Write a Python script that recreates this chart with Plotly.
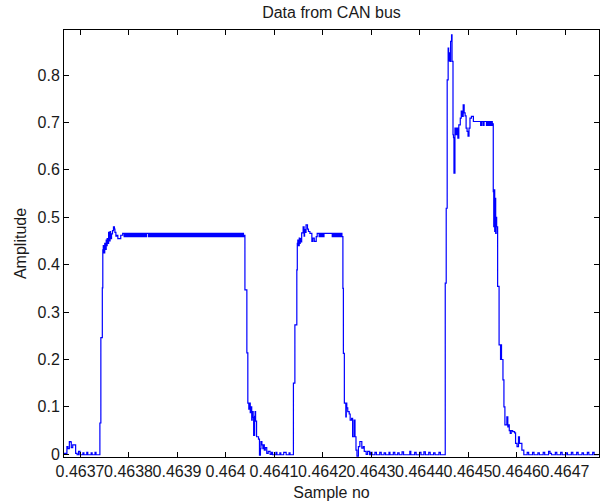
import plotly.graph_objects as go

# Sample numbers are stored as integer offsets from ORIGIN, in units of STEP.
ORIGIN = 0.4637
STEP = 1e-6

# (offset, amplitude) change points of the bus voltage, held until the next point
quiet_start = [
    (-33, 0.002), (-29, 0.002), (-27, 0.016), (-25, 0.012), (-22, 0.027),
    (-20, 0.026), (-18, 0.014), (-15, 0.020), (-9, 0.002), (-6, -0.001),
    (-3, 0.006), (0, -0.001), (6, 0.003), (8, -0.001), (14, 0.004),
    (16, -0.001), (23, 0.003), (25, -0.001), (31, 0.004), (33, -0.001),
]

pulse1_rise = [
    (41, 0.066), (43, 0.246), (46, 0.351), (47, 0.431), (48, 0.440),
    (49, 0.425), (51, 0.445), (52, 0.432), (54, 0.452), (55, 0.440),
    (56, 0.455), (58, 0.445), (59, 0.468), (60, 0.450), (62, 0.470),
    (63, 0.455), (65, 0.465), (67, 0.472), (69, 0.480), (71, 0.475),
    (72, 0.468), (74, 0.460), (76, 0.462), (78, 0.455), (84, 0.462),
    (88, 0.466),
]

pulse1_top = [
    (89, 0.466), (91, 0.459), (93, 0.466), (95, 0.459), (97, 0.466),
    (99, 0.459), (101, 0.466), (103, 0.459), (105, 0.466), (107, 0.459),
    (109, 0.466), (111, 0.459), (113, 0.466), (115, 0.459), (117, 0.466),
    (119, 0.459), (121, 0.466), (123, 0.459), (125, 0.466), (127, 0.459),
    (129, 0.466), (131, 0.459), (133, 0.466), (135, 0.459), (137, 0.466),
    (141, 0.459), (143, 0.466), (145, 0.459), (147, 0.466), (149, 0.459),
    (151, 0.466), (153, 0.459), (155, 0.466), (157, 0.459), (159, 0.466),
    (161, 0.459), (163, 0.466), (165, 0.459), (167, 0.466), (169, 0.459),
    (171, 0.466), (173, 0.459), (175, 0.466), (177, 0.459), (179, 0.466),
    (181, 0.459), (183, 0.466), (185, 0.459), (187, 0.466), (189, 0.459),
    (191, 0.466), (193, 0.459), (195, 0.466), (197, 0.459), (199, 0.466),
    (201, 0.459), (203, 0.466), (205, 0.459), (207, 0.466), (209, 0.459),
    (211, 0.466), (213, 0.459), (215, 0.466), (217, 0.459), (219, 0.466),
    (221, 0.459), (223, 0.466), (225, 0.459), (227, 0.466), (229, 0.459),
    (231, 0.466), (233, 0.459), (235, 0.466), (237, 0.459), (239, 0.466),
    (241, 0.459), (243, 0.466), (245, 0.459), (247, 0.466), (249, 0.459),
    (251, 0.466), (253, 0.459), (255, 0.466), (257, 0.459), (259, 0.466),
    (261, 0.459), (263, 0.466), (265, 0.459), (267, 0.466), (269, 0.459),
    (271, 0.466), (273, 0.459), (275, 0.466), (277, 0.459), (279, 0.466),
    (281, 0.459), (283, 0.466), (285, 0.459), (287, 0.466), (289, 0.459),
    (291, 0.466), (293, 0.459), (295, 0.466), (297, 0.459), (299, 0.466),
    (301, 0.459), (303, 0.466), (305, 0.459), (307, 0.466), (309, 0.459),
    (311, 0.466), (313, 0.459), (315, 0.466), (317, 0.459), (319, 0.466),
    (321, 0.459), (323, 0.466), (325, 0.459), (327, 0.466), (329, 0.459),
    (331, 0.466), (333, 0.459), (335, 0.466), (337, 0.459), (338, 0.462),
]

pulse1_fall = [
    (340, 0.347), (344, 0.214), (346, 0.108), (348, 0.095), (350, 0.108),
    (351, 0.088), (353, 0.100), (354, 0.072), (355, 0.090), (357, 0.078),
    (358, 0.040), (360, 0.080), (361, 0.090), (362, 0.070), (364, 0.037),
    (368, 0.032), (370, -0.002), (372, 0.012), (373, 0.027), (375, 0.020),
    (377, 0.012), (378, 0.020), (380, 0.009), (382, 0.014), (385, 0.002),
    (388, 0.006), (392, 0.000), (395, 0.004), (397, -0.001),
]

quiet_gap1 = [
    (404, 0.004), (406, -0.001), (412, 0.003), (414, -0.001), (420, 0.004),
    (425, -0.001), (431, 0.003), (433, -0.001),
]

pulse2_rise = [
    (440, 0.150), (443, 0.273), (447, 0.389), (448, 0.445), (449, 0.452),
    (450, 0.440), (452, 0.456), (453, 0.445), (454, 0.455), (455, 0.448),
    (457, 0.467), (460, 0.480), (462, 0.460), (463, 0.474), (464, 0.468),
    (466, 0.484), (469, 0.475), (471, 0.470), (474, 0.466), (478, 0.449),
    (480, 0.456), (483, 0.449), (487, 0.459),
]

pulse2_top = [
    (489, 0.466), (493, 0.459), (495, 0.466), (497, 0.459), (499, 0.466),
    (501, 0.459), (503, 0.466), (520, 0.459), (522, 0.466), (524, 0.459),
    (526, 0.466), (528, 0.459), (530, 0.466), (532, 0.459), (534, 0.466),
    (536, 0.459), (538, 0.466), (540, 0.459),
]

pulse2_fall = [
    (542, 0.350), (543, 0.213), (545, 0.108), (548, 0.079), (549, 0.108),
    (550, 0.098), (552, 0.090), (555, 0.085), (557, 0.072), (560, 0.076),
    (562, 0.037), (565, 0.072), (567, 0.037), (569, 0.009), (571, -0.004),
    (574, 0.016), (577, 0.027), (581, 0.013), (584, 0.016), (586, 0.006),
    (590, 0.000), (593, 0.006), (597, -0.001), (599, 0.004), (602, -0.001),
]

quiet_gap2 = [
    (608, 0.004), (611, -0.001), (618, 0.004), (621, -0.001), (627, 0.003),
    (630, -0.001), (637, 0.004), (639, -0.001), (646, 0.004), (649, -0.001),
    (655, 0.003), (658, -0.001), (664, 0.005), (667, -0.001), (680, 0.006),
    (682, -0.001), (690, 0.004), (693, -0.001), (700, 0.004), (703, -0.001),
    (709, 0.005), (712, -0.001), (719, 0.004), (722, -0.001), (729, 0.003),
    (732, -0.001), (740, 0.004), (743, -0.001),
]

pulse3_rise = [
    (753, 0.361), (755, 0.519), (757, 0.790), (759, 0.857), (760, 0.830),
    (761, 0.847), (763, 0.829), (764, 0.871), (766, 0.885), (767, 0.829),
    (769, 0.674), (770, 0.668), (771, 0.593), (773, 0.688), (775, 0.674),
    (777, 0.688), (779, 0.667), (781, 0.695), (784, 0.709), (786, 0.724),
    (788, 0.713), (790, 0.737), (792, 0.720), (794, 0.714), (796, 0.688),
    (798, 0.681), (800, 0.671), (802, 0.688), (804, 0.709), (807, 0.713),
    (811, 0.702),
]

pulse3_top = [
    (826, 0.694), (828, 0.702), (831, 0.694), (833, 0.702), (838, 0.694),
    (840, 0.702), (842, 0.694), (844, 0.702), (846, 0.694), (848, 0.702),
    (850, 0.694), (851, 0.697),
]

pulse3_fall = [
    (852, 0.554), (853, 0.480), (854, 0.558), (855, 0.470), (856, 0.540),
    (857, 0.466), (858, 0.500), (859, 0.480), (861, 0.354), (864, 0.231),
    (867, 0.200), (868, 0.231), (869, 0.200), (872, 0.157), (874, 0.100),
    (876, 0.062), (880, 0.079), (882, 0.058), (884, 0.062), (885, 0.050),
    (887, 0.044), (889, 0.050), (892, 0.048), (896, 0.045), (898, 0.023),
    (901, 0.016), (904, 0.037), (906, 0.023), (911, 0.009), (915, -0.001),
]

quiet_end = [
    (922, 0.004), (925, -0.001), (933, 0.004), (936, -0.001), (944, 0.003),
    (947, -0.001), (955, 0.004), (958, -0.001), (966, 0.006), (969, 0.002),
    (972, -0.001), (980, 0.004), (983, -0.001), (991, 0.004), (994, -0.001),
    (1002, 0.003), (1005, -0.001), (1013, 0.004), (1016, -0.001), (1024, 0.004),
    (1027, -0.001), (1035, 0.003), (1038, -0.001), (1046, 0.004), (1049, -0.001),
    (1057, 0.004), (1060, -0.001), (1069, -0.001),
]

x_tick_vals = [0.4637, 0.4638, 0.4639, 0.4640, 0.4641, 0.4642,
               0.4643, 0.4644, 0.4645, 0.4646, 0.4647]
x_tick_text = ["0.4637", "0.4638", "0.4639", "0.464", "0.4641", "0.4642",
               "0.4643", "0.4644", "0.4645", "0.4646", "0.4647"]
y_tick_vals = [0, 0.1, 0.2, 0.3, 0.4, 0.5, 0.6, 0.7, 0.8]
y_tick_text = ["0", "0.1", "0.2", "0.3", "0.4", "0.5", "0.6", "0.7", "0.8"]

x_limits = (-33, 1070)      # offsets
y_limits = (-0.0057, 0.895)

segments = [quiet_start, pulse1_rise, pulse1_top, pulse1_fall, quiet_gap1,
            pulse2_rise, pulse2_top, pulse2_fall, quiet_gap2,
            pulse3_rise, pulse3_top, pulse3_fall, quiet_end]
offsets = [o for seg in segments for o, _ in seg]
amplitude = [a for seg in segments for _, a in seg]
sample_no = [ORIGIN + o * STEP for o in offsets]

FONT = "Liberation Sans, Arial, sans-serif"
TEXT = "#1a1a1a"

fig = go.Figure(
    go.Scatter(
        x=sample_no, y=amplitude, mode="lines",
        line=dict(color="#0000ff", width=1.2, shape="hv"),
        hoverinfo="skip",
    )
)

axis_common = dict(
    showline=True, linecolor="black", linewidth=1, mirror="ticks",
    ticks="inside", ticklen=5, tickwidth=1, tickcolor="black",
    showgrid=False, zeroline=False,
    tickfont=dict(family=FONT, size=16, color=TEXT),
)

fig.update_layout(
    width=600, height=504,
    margin=dict(l=64, r=1, t=30, b=47, autoexpand=False),
    paper_bgcolor="white", plot_bgcolor="white",
    showlegend=False,
    font=dict(family=FONT, size=16, color=TEXT),
    title=dict(text="Data from CAN bus", x=0.5, xref="paper",
               y=1 - 12 / 504, yref="container", yanchor="middle",
               font=dict(family=FONT, size=16, color=TEXT)),
    xaxis=dict(
        range=[ORIGIN + x_limits[0] * STEP, ORIGIN + x_limits[1] * STEP],
        tickmode="array", tickvals=x_tick_vals, ticktext=x_tick_text,
        tickangle=0, automargin=False,
        title=dict(text="Sample no", standoff=7,
                   font=dict(family=FONT, size=16, color=TEXT)),
        **axis_common,
    ),
    yaxis=dict(
        range=list(y_limits),
        tickmode="array", tickvals=y_tick_vals, ticktext=y_tick_text,
        automargin=False,
        title=dict(text="Amplitude", standoff=6,
                   font=dict(family=FONT, size=16, color=TEXT)),
        **axis_common,
    ),
)

fig.write_html("out.html")
